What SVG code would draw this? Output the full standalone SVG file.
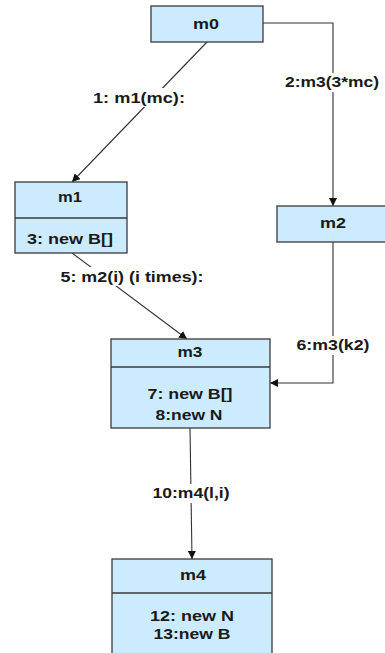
<svg xmlns="http://www.w3.org/2000/svg" width="385" height="653" viewBox="0 0 385 653">
<defs>
<style>
.box{fill:#cdebff;stroke:#3a3a3a;stroke-width:1.3}
.div{stroke:#3a3a3a;stroke-width:1.3;fill:none}
.t{font-family:"Liberation Sans",Arial,sans-serif;font-size:15px;font-weight:bold;fill:#1a1a1a;text-anchor:middle}
.c{stroke:#333;stroke-width:1.1;fill:none}
.bg{fill:#fff}
</style>
<marker id="ah" viewBox="0 0 10 10" refX="10" refY="5" markerWidth="8" markerHeight="8" markerUnits="userSpaceOnUse" orient="auto">
<path d="M0,0 L10,5 L0,10 z" fill="#111"/>
</marker>
</defs>
<g id="connectors">
<path class="c" d="M207,42 L72,182" marker-end="url(#ah)"/>
<path class="c" d="M263,23 L333,23 L333,206" marker-end="url(#ah)"/>
<path class="c" d="M72,253 L187,339" marker-end="url(#ah)"/>
<path class="c" d="M333,242 L333,383 L270,383" marker-end="url(#ah)"/>
<path class="c" d="M190,428 L192,559" marker-end="url(#ah)"/>
<rect class="bg" x="91" y="88" width="96" height="19"/>
<text class="t" x="139" y="103" textLength="92" lengthAdjust="spacingAndGlyphs">1: m1(mc):</text>
<rect class="bg" x="283" y="73" width="98" height="19"/>
<text class="t" x="332" y="87" textLength="94" lengthAdjust="spacingAndGlyphs">2:m3(3*mc)</text>
<rect class="bg" x="59" y="267" width="147" height="19"/>
<text class="t" x="132" y="282" textLength="143" lengthAdjust="spacingAndGlyphs">5: m2(i) (i times):</text>
<rect class="bg" x="294" y="336" width="77" height="19"/>
<text class="t" x="333" y="350" textLength="73" lengthAdjust="spacingAndGlyphs">6:m3(k2)</text>
<rect class="bg" x="150" y="484" width="81" height="19"/>
<text class="t" x="191" y="498" textLength="77" lengthAdjust="spacingAndGlyphs">10:m4(l,i)</text>
</g>
<g id="m0">
<rect class="box" x="151" y="6" width="112" height="36"/>
<text class="t" x="206" y="29" textLength="26" lengthAdjust="spacingAndGlyphs">m0</text>
</g>
<g id="m1">
<rect class="box" x="15" y="182" width="112" height="71"/>
<line class="div" x1="15" y1="218" x2="127" y2="218"/>
<text class="t" x="70" y="202" textLength="24" lengthAdjust="spacingAndGlyphs">m1</text>
<text class="t" x="70" y="244" textLength="86" lengthAdjust="spacingAndGlyphs">3: new B[]</text>
</g>
<g id="m2">
<rect class="box" x="277" y="206" width="112" height="36"/>
<text class="t" x="333" y="228" textLength="26" lengthAdjust="spacingAndGlyphs">m2</text>
</g>
<g id="m3">
<rect class="box" x="111" y="339" width="159" height="89"/>
<line class="div" x1="111" y1="367" x2="270" y2="367"/>
<text class="t" x="190" y="357" textLength="25" lengthAdjust="spacingAndGlyphs">m3</text>
<text class="t" x="190" y="399" textLength="85" lengthAdjust="spacingAndGlyphs">7: new B[]</text>
<text class="t" x="189" y="420" textLength="67" lengthAdjust="spacingAndGlyphs">8:new N</text>
</g>
<g id="m4">
<rect class="box" x="112" y="559" width="160" height="100"/>
<line class="div" x1="112" y1="593" x2="272" y2="593"/>
<text class="t" x="193" y="580" textLength="26" lengthAdjust="spacingAndGlyphs">m4</text>
<text class="t" x="192" y="621" textLength="84" lengthAdjust="spacingAndGlyphs">12: new N</text>
<text class="t" x="192" y="639" textLength="77" lengthAdjust="spacingAndGlyphs">13:new B</text>
</g>
</svg>
